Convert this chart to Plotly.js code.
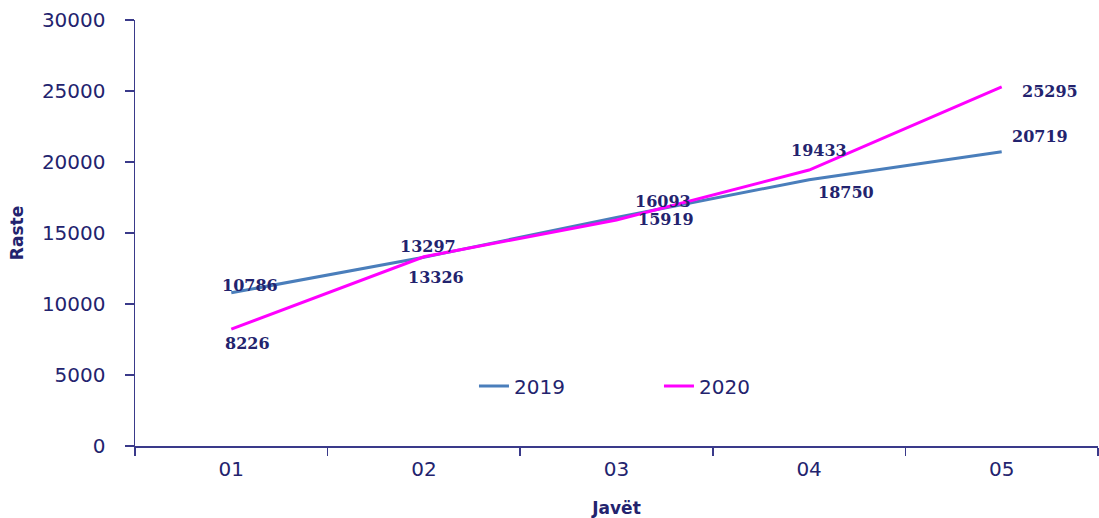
<!DOCTYPE html>
<html>
<head>
<meta charset="utf-8">
<script src="https://cdn.plot.ly/plotly-3.0.1.min.js"></script>
<style>html,body{margin:0;padding:0;background:#fff;}#chart{width:1099px;height:518px;}</style>
</head>
<body>
<div id="chart"></div>
<script>
const weeks = ["01", "02", "03", "04", "05"];
const cases2019 = [10786, 13297, 16093, 18750, 20719];
const cases2020 = [8226, 13326, 15919, 19433, 25295];
const seriesNames = ["2019", "2020"];

// label offsets in pixels (style only)
const off2019 = [[19, 7], [4, 11], [46, 16], [37, -13], [38, 15]];
const off2020 = [[16, -14], [12, -21], [49, 0], [10, 20], [48, -5]];

const navy = "#23236e";
const axisCol = "#3a3a8a";

const traces = [
  {x: weeks, y: cases2019, name: seriesNames[0], type: "scatter", mode: "lines",
   line: {color: "#4a7ebb", width: 3}},
  {x: weeks, y: cases2020, name: seriesNames[1], type: "scatter", mode: "lines",
   line: {color: "#ff00ff", width: 3}}
];

const annotations = [];
function addLabels(vals, offs) {
  vals.forEach((v, i) => {
    annotations.push({x: i, y: v, text: String(v), showarrow: false,
      xshift: offs[i][0], yshift: offs[i][1],
      font: {family: "DejaVu Serif", size: 16, color: navy, weight: "bold"}});
  });
}
addLabels(cases2019, off2019);
addLabels(cases2020, off2020);

const layout = {
  width: 1099, height: 518,
  margin: {l: 135, r: 1, t: 20, b: 72},
  paper_bgcolor: "#fff", plot_bgcolor: "#fff",
  font: {family: "DejaVu Sans", color: navy},
  showlegend: true,
  legend: {orientation: "h", x: 0.352, y: 0.141, xanchor: "left", yanchor: "middle",
    font: {size: 20, color: navy}, entrywidth: 140, entrywidthmode: "pixels",
    bgcolor: "rgba(0,0,0,0)"},
  xaxis: {type: "category", range: [-0.5, 4.5], showgrid: false, zeroline: false,
    showline: true, linecolor: axisCol, linewidth: 1.5,
    ticks: "outside", tickson: "boundaries", ticklen: 8, tickcolor: axisCol, tickwidth: 1.5,
    tickfont: {size: 20, color: navy}, ticklabelstandoff: 4,
    title: {text: "Javët", font: {size: 17, color: navy, weight: "bold"}, standoff: 26}},
  yaxis: {range: [0, 30000], dtick: 5000, tickformat: "d", showgrid: false, zeroline: false,
    showline: true, linecolor: axisCol, linewidth: 1.5,
    ticks: "outside", ticklen: 9, tickcolor: axisCol, tickwidth: 1.5,
    tickfont: {size: 20, color: navy}, ticklabelstandoff: 15,
    title: {text: "Raste", font: {size: 17, color: navy, weight: "bold"}, standoff: 14}},
  annotations: annotations
};

Plotly.newPlot("chart", traces, layout, {displayModeBar: false, staticPlot: true});
</script>
</body>
</html>
